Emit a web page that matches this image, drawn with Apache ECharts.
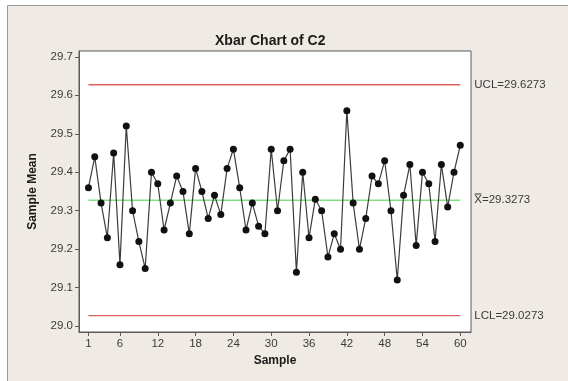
<!DOCTYPE html>
<html>
<head>
<meta charset="utf-8">
<script src="https://cdn.jsdelivr.net/npm/echarts@6/dist/echarts.min.js"></script>
<style>
html,body{margin:0;padding:0;background:#ffffff;}
#chart{width:568px;height:381px;}
</style>
</head>
<body>
<div id="chart"></div>
<script>
// ---- data ----
var samples = [];
for (var i = 1; i <= 60; i++) samples.push(i);
var sampleMeans = [
  29.36, 29.44, 29.32, 29.23, 29.45, 29.16, 29.52, 29.30, 29.22, 29.15,
  29.40, 29.37, 29.25, 29.32, 29.39, 29.35, 29.24, 29.41, 29.35, 29.28,
  29.34, 29.29, 29.41, 29.46, 29.36, 29.25, 29.32, 29.26, 29.24, 29.46,
  29.30, 29.43, 29.46, 29.14, 29.40, 29.23, 29.33, 29.30, 29.18, 29.24,
  29.20, 29.56, 29.32, 29.20, 29.28, 29.39, 29.37, 29.43, 29.30, 29.12,
  29.34, 29.42, 29.21, 29.40, 29.37, 29.22, 29.42, 29.31, 29.40, 29.47
];
var UCL = 29.6273;
var CENTER = 29.3273;
var LCL = 29.0273;
var xTickValues = [1, 6, 12, 18, 24, 30, 36, 42, 48, 54, 60];
var yTickValues = [29.0, 29.1, 29.2, 29.3, 29.4, 29.5, 29.6, 29.7];

var pts = samples.map(function (s, i) { return [s, sampleMeans[i]]; });
var first = samples[0], last = samples[samples.length - 1];

var labelFont = { fontFamily: 'Liberation Sans', fontSize: 11.5, color: '#3a3a3a' };

function ctrlLine(val, color, text) {
  return {
    type: 'line',
    data: [[first, val], [last, val]],
    symbol: 'none',
    silent: true,
    lineStyle: { color: color, width: 1.3 },
    z: 1,
    endLabel: {
      show: true,
      formatter: text,
      distance: 14,
      fontFamily: 'Liberation Sans',
      fontSize: 11.5,
      color: '#3a3a3a'
    }
  };
}

var chart = echarts.init(document.getElementById('chart'), null, { renderer: 'canvas' });
chart.setOption({
  animation: false,
  backgroundColor: 'transparent',
  graphic: [{
    type: 'rect',
    shape: { x: 7.5, y: 5.5, width: 600, height: 400 },
    style: { fill: '#efebe4', stroke: '#9a9a9a', lineWidth: 1 },
    z: -10, silent: true
  }],
  title: {
    text: 'Xbar Chart of C2',
    left: 210, top: 29,
    textStyle: { fontFamily: 'Liberation Sans', fontWeight: 'bold', fontSize: 14, color: '#1a1a1a' }
  },
  grid: {
    left: 79, top: 51, right: 97, bottom: 49,
    show: true, backgroundColor: '#ffffff', borderColor: '#5a5a5a', borderWidth: 1
  },
  xAxis: {
    type: 'value', min: -0.5, max: 61.7,
    name: 'Sample', nameLocation: 'middle', nameGap: 23,
    nameTextStyle: { fontFamily: 'Liberation Sans', fontWeight: 'bold', fontSize: 12, color: '#1a1a1a' },
    axisLine: { show: true, onZero: false, lineStyle: { color: '#5a5a5a' } },
    axisTick: { show: true, inside: false, length: 4, customValues: xTickValues, lineStyle: { color: '#5a5a5a' } },
    axisLabel: Object.assign({ customValues: xTickValues, margin: 6 }, labelFont),
    splitLine: { show: false }
  },
  yAxis: {
    type: 'value', min: 28.985, max: 29.715,
    name: 'Sample Mean', nameLocation: 'middle', nameGap: 40,
    nameTextStyle: { fontFamily: 'Liberation Sans', fontWeight: 'bold', fontSize: 12, color: '#1a1a1a' },
    axisLine: { show: true, onZero: false, lineStyle: { color: '#5a5a5a' } },
    axisTick: { show: true, inside: false, length: 4, customValues: yTickValues, lineStyle: { color: '#5a5a5a' } },
    axisLabel: Object.assign({ customValues: yTickValues, margin: 6, formatter: function (v) { return v.toFixed(1); } }, labelFont),
    splitLine: { show: false }
  },
  series: [
    ctrlLine(UCL, '#e06060', 'UCL=' + UCL.toFixed(4)),
    ctrlLine(CENTER, '#7ee07e', 'X\u033F=' + CENTER.toFixed(4)),
    ctrlLine(LCL, '#e06060', 'LCL=' + LCL.toFixed(4)),
    {
      type: 'line',
      data: pts,
      symbol: 'circle',
      symbolSize: 7,
      itemStyle: { color: '#111111' },
      lineStyle: { color: '#3c3c3c', width: 1.2 },
      z: 3
    }
  ]
});
</script>
</body>
</html>
